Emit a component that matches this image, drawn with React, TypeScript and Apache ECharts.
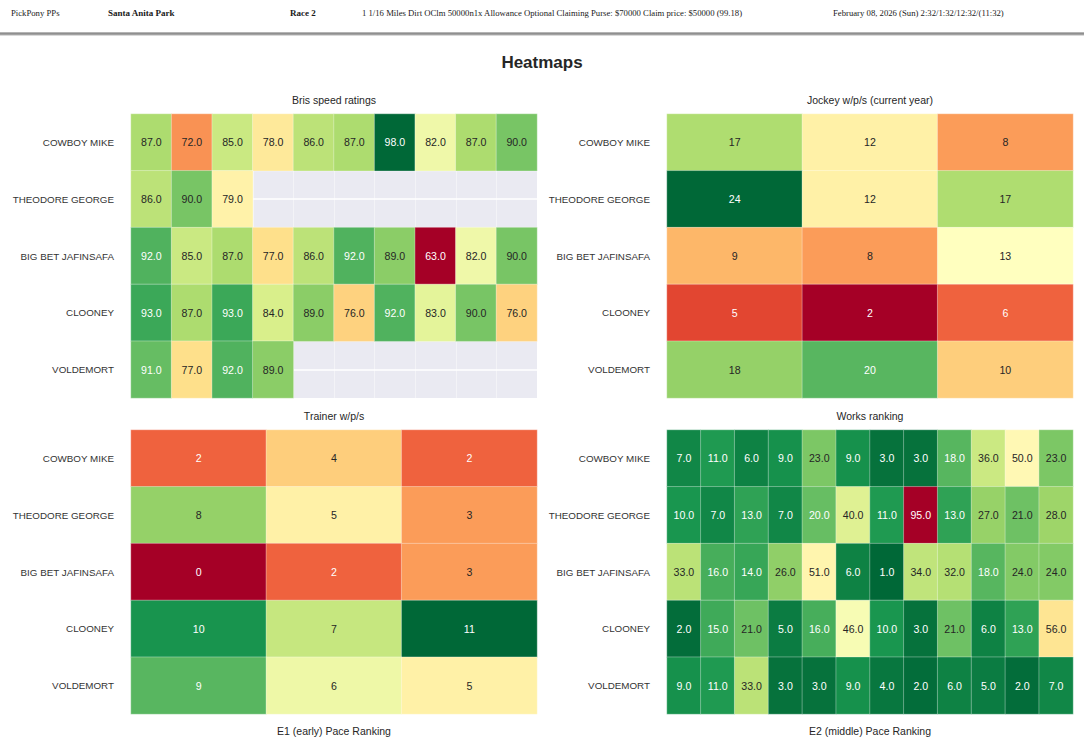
import React, { useEffect, useRef } from "react";
import * as echarts from "echarts";

// ---------- data ----------
const horses = ["COWBOY MIKE", "THEODORE GEORGE", "BIG BET JAFINSAFA", "CLOONEY", "VOLDEMORT"];

const brisSpeed: (number | null)[][] = [
  [87, 72, 85, 78, 86, 87, 98, 82, 87, 90],
  [86, 90, 79, null, null, null, null, null, null, null],
  [92, 85, 87, 77, 86, 92, 89, 63, 82, 90],
  [93, 87, 93, 84, 89, 76, 92, 83, 90, 76],
  [91, 77, 92, 89, null, null, null, null, null, null],
];

const jockeyWps: number[][] = [
  [17, 12, 8],
  [24, 12, 17],
  [9, 8, 13],
  [5, 2, 6],
  [18, 20, 10],
];

const trainerWps: number[][] = [
  [2, 4, 2],
  [8, 5, 3],
  [0, 2, 3],
  [10, 7, 11],
  [9, 6, 5],
];

const worksRanking: number[][] = [
  [7, 11, 6, 9, 23, 9, 3, 3, 18, 36, 50, 23],
  [10, 7, 13, 7, 20, 40, 11, 95, 13, 27, 21, 28],
  [33, 16, 14, 26, 51, 6, 1, 34, 32, 18, 24, 24],
  [2, 15, 21, 5, 16, 46, 10, 3, 21, 6, 13, 56],
  [9, 11, 33, 3, 3, 9, 4, 2, 6, 5, 2, 7],
];

const panelTitles = ["Bris speed ratings", "Jockey w/p/s (current year)", "Trainer w/p/s", "Works ranking"];
const panelXLabels = ["", "", "E1 (early) Pace Ranking", "E2 (middle) Pace Ranking"];

const headerItems = [
  { text: "PickPony PPs", x: 11, bold: false },
  { text: "Santa Anita Park", x: 108, bold: true },
  { text: "Race 2", x: 290, bold: true },
  { text: "1 1/16 Miles Dirt OClm 50000n1x Allowance Optional Claiming Purse: $70000 Claim price: $50000 (99.18)", x: 362, bold: false },
  { text: "February 08, 2026 (Sun) 2:32/1:32/12:32/(11:32)", x: 833, bold: false },
];

// RdYlGn colormap (ColorBrewer 11)
const RDYLGN = [
  "#a50026", "#d73027", "#f46d43", "#fdae61", "#fee08b", "#ffffbf",
  "#d9ef8b", "#a6d96a", "#66bd63", "#1a9850", "#006837",
];

function hexToRgb(h: string): number[] {
  return [parseInt(h.slice(1, 3), 16) / 255, parseInt(h.slice(3, 5), 16) / 255, parseInt(h.slice(5, 7), 16) / 255];
}

function cmap(t: number, colors: string[]): number[] {
  const n = colors.length - 1;
  const p = Math.max(0, Math.min(1, t)) * n;
  const i = Math.min(n - 1, Math.floor(p));
  const f = p - i;
  const a = hexToRgb(colors[i]);
  const b = hexToRgb(colors[i + 1]);
  return [0, 1, 2].map((k) => a[k] + (b[k] - a[k]) * f);
}

function textColorFor(v: number, min: number, max: number, colors: string[]): string {
  const rgb = cmap((v - min) / (max - min), colors);
  const lin = rgb.map((c) => (c <= 0.03928 ? c / 12.92 : Math.pow((c + 0.055) / 1.055, 2.4)));
  const lum = 0.2126 * lin[0] + 0.7152 * lin[1] + 0.0722 * lin[2];
  return lum > 0.408 ? "#262626" : "#ffffff";
}

const FONT = "Liberation Sans, Arial, sans-serif";

export default function App() {
  const ref = useRef<HTMLDivElement>(null);

  useEffect(() => {
    if (!ref.current) return;
    const chart = echarts.init(ref.current, undefined, { renderer: "svg" });

    const panels = [
      { data: brisSpeed, colors: RDYLGN, decimals: 1 },
      { data: jockeyWps, colors: RDYLGN, decimals: 0 },
      { data: trainerWps, colors: RDYLGN, decimals: 0 },
      { data: worksRanking, colors: [...RDYLGN].reverse(), decimals: 1 },
    ];

    const gridPos = [
      { left: 131, top: 114 },
      { left: 667, top: 114 },
      { left: 131, top: 430 },
      { left: 667, top: 430 },
    ];
    const GW = 406;
    const GH = 284;

    const grids: any[] = [];
    const xAxes: any[] = [];
    const yAxes: any[] = [];
    const series: any[] = [];
    const visualMaps: any[] = [];

    panels.forEach((p, gi) => {
      const vals = p.data.flat().filter((v) => v !== null) as number[];
      const min = Math.min(...vals);
      const max = Math.max(...vals);
      const ncol = p.data[0].length;

      grids.push({
        left: gridPos[gi].left,
        top: gridPos[gi].top,
        width: GW,
        height: GH,
        show: true,
        backgroundColor: "#EAEAF2",
        borderWidth: 0,
      });
      xAxes.push({
        type: "category",
        gridIndex: gi,
        data: Array.from({ length: ncol }, (_, i) => String(i)),
        axisLine: { show: false },
        axisTick: { show: false },
        axisLabel: { show: false },
        splitLine: { show: true, interval: 0, lineStyle: { color: "rgba(255,255,255,0.7)", width: 0.6 } },
      });
      yAxes.push({
        type: "category",
        gridIndex: gi,
        inverse: true,
        data: horses,
        axisLine: { show: false },
        axisTick: { show: false },
        axisLabel: { interval: 0, fontSize: 9.8, color: "#333333", fontFamily: FONT, margin: 17 },
        splitLine: { show: true, interval: 0, alignWithLabel: true, lineStyle: { color: "#ffffff", width: 1.6 } },
      });

      const items: any[] = [];
      p.data.forEach((row, r) => {
        row.forEach((v, c) => {
          if (v === null) return;
          items.push({
            value: [c, r, v],
            label: { color: textColorFor(v, min, max, p.colors) },
          });
        });
      });

      series.push({
        type: "heatmap",
        xAxisIndex: gi,
        yAxisIndex: gi,
        data: items,
        itemStyle: { borderColor: "rgba(255,255,255,0.55)", borderWidth: 0.6 },
        emphasis: { disabled: true },
        label: {
          show: true,
          fontSize: 10.6,
          fontFamily: FONT,
          formatter: (prm: any) => Number(prm.value[2]).toFixed(p.decimals),
        },
      });

      visualMaps.push({
        type: "continuous",
        show: false,
        seriesIndex: gi,
        dimension: 2,
        min,
        max,
        inRange: { color: p.colors },
      });
    });

    const graphics: any[] = [];
    headerItems.forEach((h) => {
      graphics.push({
        type: "text",
        x: h.x,
        y: 13,
        style: {
          text: h.text,
          font: `${h.bold ? "bold 9px" : "8.7px"} "Liberation Serif", "Times New Roman", serif`,
          fill: "#1a1a1a",
          verticalAlign: "middle",
          align: "left",
        },
      });
    });
    graphics.push({ type: "rect", shape: { x: 0, y: 32, width: 1084, height: 3.5 }, style: { fill: "#b4b4b4" } });
    graphics.push({ type: "rect", shape: { x: 0, y: 33, width: 1084, height: 1.5 }, style: { fill: "#8f8f8f" } });
    graphics.push({
      type: "text",
      x: 542,
      y: 62,
      style: {
        text: "Heatmaps",
        font: `bold 17px ${FONT}`,
        fill: "#262626",
        align: "center",
        verticalAlign: "middle",
      },
    });
    panelTitles.forEach((t, i) => {
      const cx = gridPos[i].left + GW / 2;
      graphics.push({
        type: "text",
        x: cx,
        y: gridPos[i].top - 14,
        style: { text: t, font: `10.5px ${FONT}`, fill: "#262626", align: "center", verticalAlign: "middle" },
      });
      if (panelXLabels[i]) {
        graphics.push({
          type: "text",
          x: cx,
          y: gridPos[i].top + GH + 17,
          style: { text: panelXLabels[i], font: `10.5px ${FONT}`, fill: "#262626", align: "center", verticalAlign: "middle" },
        });
      }
    });

    chart.setOption({
      animation: false,
      backgroundColor: "#ffffff",
      grid: grids,
      xAxis: xAxes,
      yAxis: yAxes,
      visualMap: visualMaps,
      series,
      graphic: graphics,
    });

    return () => chart.dispose();
  }, []);

  return <div ref={ref} style={{ position: "absolute", left: 0, top: 0, width: 1084, height: 741 }} />;
}
